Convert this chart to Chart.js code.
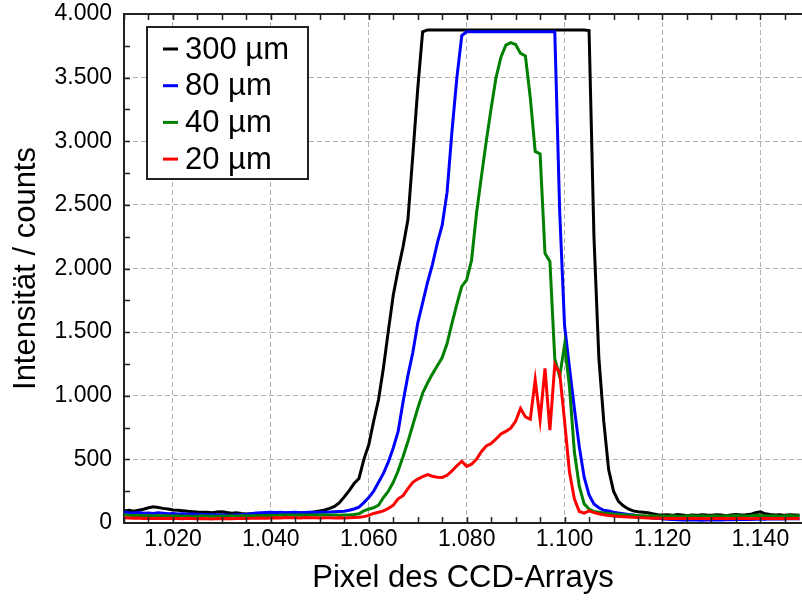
<!DOCTYPE html>
<html>
<head>
<meta charset="utf-8">
<script src="https://cdn.jsdelivr.net/npm/chart.js@4"></script>
<style>
  html, body { margin: 0; padding: 0; background: #fff; }
</style>
</head>
<body>
<canvas id="chart" width="802" height="601"></canvas>
<script>
/* CCD pixel index (x) and counts per slit width */
var firstPixel = 1010;
var seriesLabels = ["300 µm", "80 µm", "40 µm", "20 µm"];
var seriesColors = ["#000000", "#0000ff", "#008000", "#ff0000"];

var counts300 = [
  95, 100, 92, 100, 108, 120, 128, 122, 115, 110,
  102, 100, 97, 92, 89, 86, 84, 84, 80, 86,
  89, 82, 76, 80, 74, 71, 72, 70, 73, 71,
  74, 78, 80, 76, 82, 79, 81, 78, 82, 88,
  95, 102, 115, 130, 160, 205, 255, 310, 350, 500,
  615, 800, 970, 1220, 1510, 1790, 1990, 2170, 2385, 2890,
  3410, 3860, 3875, 3875, 3875, 3875, 3875, 3875, 3875, 3875,
  3875, 3875, 3875, 3875, 3875, 3875, 3875, 3875, 3875, 3875,
  3875, 3875, 3875, 3875, 3875, 3875, 3875, 3875, 3875, 3875,
  3875, 3875, 3875, 3875, 3875, 3870, 2250, 1300, 800, 420,
  250, 170, 135, 110, 95, 88, 84, 80, 72, 65,
  62, 64, 60, 66, 62, 58, 63, 60, 65, 62,
  60, 64, 62, 58, 62, 66, 62, 64, 68, 80,
  88, 72, 66, 62, 65, 60, 64, 62, 60
];
var counts80 = [
  85, 80, 78, 82, 76, 78, 75, 80, 76, 72,
  74, 70, 72, 68, 70, 66, 68, 64, 66, 62,
  65, 62, 60, 64, 66, 68, 72, 78, 80, 82,
  84, 82, 84, 80, 82, 84, 80, 82, 84, 82,
  84, 85, 86, 88, 90, 92, 100, 110, 125, 160,
  200, 250, 320, 390, 480, 590, 720, 950, 1160, 1340,
  1570, 1730, 1890, 2030, 2200, 2340, 2600, 3080, 3500, 3830,
  3860, 3860, 3860, 3860, 3860, 3860, 3860, 3860, 3860, 3860,
  3860, 3860, 3860, 3860, 3860, 3860, 3860, 3860, 3860, 2450,
  1550, 1220, 900, 600, 360, 220, 150, 120, 100, 95,
  85, 78, 72, 66, 62, 56, 50, 45, 40, 38,
  34, 30, 28, 26, 24, 25, 23, 24, 22, 24,
  23, 25, 24, 26, 25, 28, 27, 30, 28, 30,
  32, 30, 33, 31, 34, 32, 35, 34, 33
];
var counts40 = [
  62, 60, 58, 60, 56, 58, 55, 58, 56, 57,
  55, 56, 54, 55, 52, 54, 56, 53, 55, 52,
  55, 53, 56, 54, 58, 55, 57, 56, 58, 57,
  60, 58, 62, 60, 63, 61, 62, 60, 63, 62,
  62, 64, 62, 63, 60, 62, 63, 66, 72, 95,
  110, 120, 140, 200, 250, 320, 410, 520, 640, 770,
  900, 1020, 1100, 1170, 1235, 1300, 1410, 1570, 1720, 1860,
  1910, 2065, 2430, 2720, 3000, 3260, 3500, 3660, 3755, 3775,
  3760, 3690, 3670, 3340, 2920, 2900, 2120, 2055, 1290, 1150,
  1400, 1070, 560, 290, 150, 110, 90, 85, 78, 74,
  70, 68, 65, 62, 60, 58, 57, 55, 56, 54,
  55, 53, 56, 54, 52, 55, 57, 54, 56, 53,
  55, 57, 54, 56, 55, 58, 56, 55, 57, 60,
  58, 56, 55, 57, 54, 56, 58, 55, 57
];
var counts20 = [
  42, 40, 38, 40, 36, 38, 35, 37, 36, 38,
  35, 36, 34, 38, 35, 33, 36, 34, 32, 35,
  34, 36, 33, 35, 38, 36, 38, 37, 40, 38,
  40, 42, 40, 43, 41, 42, 40, 43, 41, 42,
  40, 42, 41, 40, 42, 40, 42, 44, 45, 50,
  60, 75, 85, 95, 115, 140, 190, 215, 270, 320,
  345, 365, 380, 368, 360, 358, 375, 410, 450, 485,
  445, 462, 500, 560, 605, 625, 660, 700, 720, 745,
  800, 900, 835, 815, 1125, 810, 1215, 730, 1245, 1180,
  800, 400, 190, 90, 78, 95, 82, 72, 64, 58,
  55, 52, 50, 48, 45, 44, 42, 40, 38, 40,
  38, 36, 38, 35, 37, 36, 38, 35, 36, 34,
  36, 35, 37, 34, 36, 35, 37, 36, 34, 36,
  35, 37, 34, 36, 35, 33, 35, 36, 34
];
var allCounts = [counts300, counts80, counts40, counts20];

var xTickValues = [1020, 1040, 1060, 1080, 1100, 1120, 1140];
var yTickValues = [0, 500, 1000, 1500, 2000, 2500, 3000, 3500, 4000];
var xMin = 1010, xMax = 1148.5, yMin = 0, yMax = 4000;

var FONT = "'Liberation Sans', Arial, sans-serif";

// 1.020 style (German thousands separator)
function fmt(v) {
  return String(v).replace(/\B(?=(\d{3})+(?!\d))/g, ".");
}

var datasets = allCounts.map(function (arr, k) {
  return {
    label: seriesLabels[k],
    data: arr.map(function (v, i) { return { x: firstPixel + i, y: v }; }),
    borderColor: seriesColors[k],
    backgroundColor: seriesColors[k],
    borderWidth: 3,
    pointRadius: 0,
    tension: 0,
    fill: false
  };
});
// draw red first so black stays on top like the original
datasets.reverse();

/* inner ticks + top frame line */
var frame = {
  id: "frame",
  afterDatasetsDraw: function (chart) {
    var ctx = chart.ctx, a = chart.chartArea;
    var xs = chart.scales.x, ys = chart.scales.y;
    ctx.save();
    ctx.strokeStyle = "#222";
    ctx.lineWidth = 2;
    ctx.beginPath();
    ctx.moveTo(a.left - 1, a.top);
    ctx.lineTo(a.right, a.top);
    ctx.stroke();
    ctx.lineWidth = 1.5;
    ctx.beginPath();
    for (var v = 1010; v <= 1145; v += 5) {
      var px = Math.round(xs.getPixelForValue(v)) + 0.5;
      ctx.moveTo(px, a.bottom);
      ctx.lineTo(px, a.bottom - 6);
      ctx.moveTo(px, a.top);
      ctx.lineTo(px, a.top + 6);
    }
    for (var w = 250; w < 4000; w += 250) {
      var py = Math.round(ys.getPixelForValue(w)) + 0.5;
      ctx.moveTo(a.left, py);
      ctx.lineTo(a.left + 6, py);
    }
    ctx.stroke();
    ctx.restore();
  }
};

/* boxed legend inside the plot, top left */
var boxLegend = {
  id: "boxLegend",
  afterDraw: function (chart) {
    var ctx = chart.ctx;
    var bx = 147, by = 27, bw = 161, bh = 152;
    ctx.save();
    ctx.fillStyle = "#fff";
    ctx.fillRect(bx, by, bw, bh);
    ctx.strokeStyle = "#222";
    ctx.lineWidth = 2;
    ctx.strokeRect(bx, by, bw, bh);
    ctx.font = "31px " + FONT;
    ctx.textBaseline = "middle";
    for (var k = 0; k < seriesLabels.length; k++) {
      var cy = 49 + k * 36.7;
      ctx.strokeStyle = seriesColors[k];
      ctx.lineWidth = 3;
      ctx.beginPath();
      ctx.moveTo(163, cy);
      ctx.lineTo(178, cy);
      ctx.stroke();
      ctx.fillStyle = "#000";
      ctx.fillText(seriesLabels[k], 185, cy + 1);
    }
    ctx.restore();
  }
};

var ctx = document.getElementById("chart").getContext("2d");
var chart = new Chart(ctx, {
  type: "line",
  data: { datasets: datasets },
  plugins: [frame, boxLegend],
  options: {
    responsive: false,
    animation: false,
    layout: { padding: { top: 14, right: 0, left: 0, bottom: 0 } },
    plugins: { legend: { display: false }, tooltip: { enabled: false } },
    scales: {
      x: {
        type: "linear",
        min: xMin,
        max: xMax,
        afterFit: function (s) { s.height = 78; s.paddingLeft = 0; s.paddingRight = 0; },
        afterBuildTicks: function (s) {
          s.ticks = xTickValues.map(function (v) { return { value: v }; });
        },
        grid: { color: "#b0b0b0", lineWidth: 1, drawTicks: false },
        border: { display: true, color: "#222", width: 2, dash: [5, 3] },
        ticks: {
          padding: 3,
          color: "#000",
          font: { family: FONT, size: 23 },
          maxRotation: 0,
          callback: function (v) { return fmt(v); }
        },
        title: {
          display: true,
          text: "Pixel des CCD-Arrays",
          color: "#000",
          font: { family: FONT, size: 31 },
          padding: { top: 0, bottom: 4 }
        }
      },
      y: {
        min: yMin,
        max: yMax,
        afterFit: function (s) { s.width = 124; s.paddingTop = 0; s.paddingBottom = 0; },
        afterBuildTicks: function (s) {
          s.ticks = yTickValues.map(function (v) { return { value: v }; });
        },
        grid: { color: "#b0b0b0", lineWidth: 1, drawTicks: false },
        border: { display: true, color: "#222", width: 2, dash: [5, 3] },
        ticks: {
          padding: 12,
          color: "#000",
          font: { family: FONT, size: 23 },
          callback: function (v) { return fmt(v); }
        },
        title: {
          display: true,
          text: "Intensität / counts",
          color: "#000",
          font: { family: FONT, size: 31 },
          padding: { top: 8, bottom: 0 }
        }
      }
    }
  }
});
</script>
</body>
</html>
